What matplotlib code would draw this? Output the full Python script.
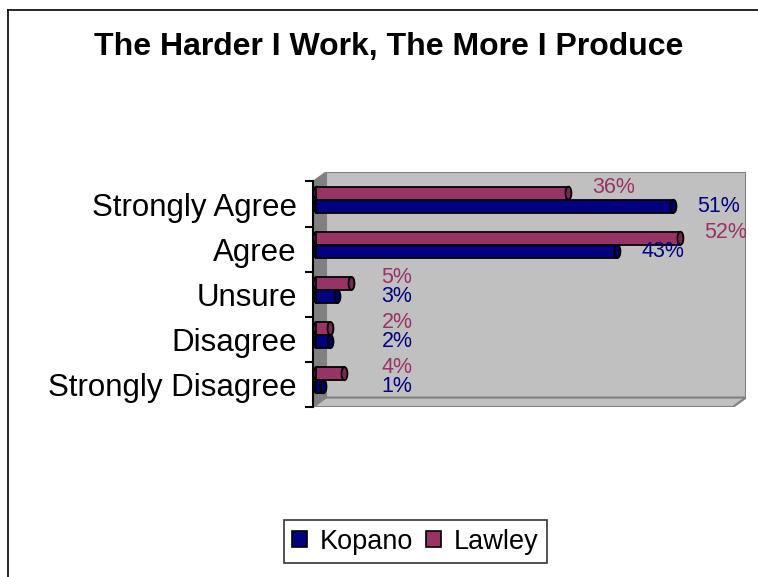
import numpy as np
import matplotlib
matplotlib.use("Agg")
import matplotlib.pyplot as plt
from matplotlib.patches import Polygon, Ellipse, Rectangle
from matplotlib.lines import Line2D

plt.rcParams['font.family'] = ['Liberation Sans', 'DejaVu Sans']

# Данные опроса
categories = ['Strongly Agree', 'Agree', 'Unsure', 'Disagree', 'Strongly Disagree']
kopano = [51, 43, 3, 2, 1]
lawley = [36, 52, 5, 2, 4]
series_names = ['Kopano', 'Lawley']

# Цвета
navy = '#000080'
maroon = '#993366'
wall_gray = '#c0c0c0'
side_gray = '#808080'

x_max = 60
depth_x = 1.86      # смещение глубины по X (в процентах)
depth_y = -0.21     # смещение глубины по Y (в категориях)

fig = plt.figure(figsize=(7.58, 5.77), dpi=100)
ax = fig.add_axes([0.4129, 0.2946, 0.5712, 0.4073])
ax.set_xlim(0, x_max + depth_x)
ax.set_ylim(len(categories) - 0.5, -0.5 + depth_y)

y_top, y_bot = -0.5, len(categories) - 0.5

# Задняя стенка, боковая стенка и пол
ax.add_patch(Polygon([(depth_x, y_top + depth_y), (x_max + depth_x, y_top + depth_y),
                      (x_max + depth_x, y_bot + depth_y), (depth_x, y_bot + depth_y)],
                     closed=True, facecolor=wall_gray, edgecolor=side_gray, lw=1.5, zorder=1))
ax.add_patch(Polygon([(0, y_top), (depth_x, y_top + depth_y), (depth_x, y_bot + depth_y), (0, y_bot)],
                     closed=True, facecolor=side_gray, edgecolor=side_gray, lw=1, zorder=1))
ax.add_patch(Polygon([(0, y_bot), (x_max, y_bot), (x_max + depth_x, y_bot + depth_y), (depth_x, y_bot + depth_y)],
                     closed=True, facecolor=wall_gray, edgecolor=side_gray, lw=1.5, zorder=1))

# Цилиндрические столбики
bar_h = 0.29
bar_start = 0.5
cap_w = 0.85
offsets = {'Kopano': 0.05, 'Lawley': -0.24}


def draw_bars(values, color, cap_color, shift):
    y = np.arange(len(values)) + shift
    ax.barh(y, values, height=bar_h, left=bar_start, color=color,
            edgecolor='black', linewidth=1.3, zorder=3)
    for yi, v in zip(y, values):
        ax.add_patch(Ellipse((bar_start, yi), cap_w, bar_h, facecolor=color,
                             edgecolor='black', lw=1.3, zorder=2))
        ax.add_patch(Ellipse((bar_start + v, yi), cap_w, bar_h, facecolor=cap_color,
                             edgecolor='black', lw=1.3, zorder=4))


# Kopano рисуем последним — он спереди
draw_bars(lawley, maroon, '#7a2850', offsets['Lawley'])
draw_bars(kopano, navy, '#000060', offsets['Kopano'])

# Подписи значений
for i, v in enumerate(lawley):
    ax.text(max(v + 7, 12), i - 0.375, f'{v}%', color=maroon, fontsize=15.5,
            ha='center', va='center', zorder=5)
for i, v in enumerate(kopano):
    ax.text(max(v + 7, 12), i + 0.05, f'{v}%', color=navy, fontsize=15.5,
            ha='center', va='center', zorder=5)

# Ось категорий
for s in ['top', 'right', 'bottom']:
    ax.spines[s].set_visible(False)
ax.spines['left'].set_bounds(y_top, y_bot)
ax.spines['left'].set_linewidth(1.5)
ax.spines['left'].set_zorder(6)
ax.set_xticks([])
ax.set_yticks(np.arange(len(categories)))
ax.set_yticklabels(categories, fontsize=22.5)
ax.set_yticks(np.arange(len(categories) + 1) - 0.5, minor=True)
ax.tick_params(axis='y', which='major', length=0, pad=11.5)
ax.tick_params(axis='y', which='minor', length=6, width=1.5, direction='out')
ax.patch.set_visible(False)

fig.text(0.513, 0.919, 'The Harder I Work, The More I Produce', fontsize=23,
         fontweight='bold', ha='center', va='center')

# Легенда
handles = [Rectangle((0, 0), 1, 1, facecolor=navy, edgecolor='black', lw=1.2),
           Rectangle((0, 0), 1, 1, facecolor=maroon, edgecolor='black', lw=1.2)]
leg = fig.legend(handles, series_names, loc='center', bbox_to_anchor=(0.548, 0.0615),
                 ncol=2, fontsize=19.5, frameon=True, fancybox=False,
                 handlelength=0.55, handleheight=0.55, handletextpad=0.48,
                 columnspacing=0.48, borderpad=0.3, borderaxespad=0)
leg.get_frame().set_edgecolor('black')
leg.get_frame().set_linewidth(1.2)

# Рамка области диаграммы
fig.add_artist(Line2D([8 / 758, 8 / 758], [0, 1 - 10 / 577], color='black', lw=1.2))
fig.add_artist(Line2D([8 / 758, 1], [1 - 10 / 577, 1 - 10 / 577], color='black', lw=1.2))

fig.savefig('out.png', dpi=100)
